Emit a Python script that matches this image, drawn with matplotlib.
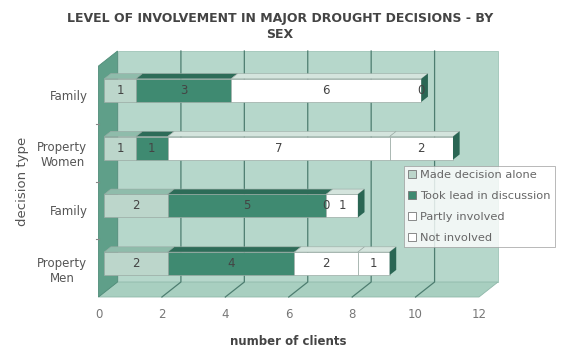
import numpy as np
import matplotlib
matplotlib.use("Agg")
import matplotlib.pyplot as plt
from matplotlib.patches import Polygon, Patch
from matplotlib.transforms import IdentityTransform

plt.rcParams['font.family'] = ['DejaVu Sans']

categories   = ["Property\nMen", "Family", "Property\nWomen", "Family"]
made_alone   = [2, 2, 1, 1]
took_lead    = [4, 5, 1, 3]
partly       = [2, 0, 7, 6]
not_involved = [1, 1, 2, 0]
series_names = ["Made decision alone", "Took lead in discussion", "Partly involved", "Not involved"]
x_ticks = [0, 2, 4, 6, 8, 10, 12]

# front / top / side colours for each series
face_cols = ["#bcd6cb", "#3f8a71", "#ffffff", "#ffffff"]
top_cols  = ["#8fbcab", "#2d6c58", "#d4e4dd", "#d4e4dd"]
side_cols = ["#7fae9d", "#2a6654", "#bcd2c9", "#bcd2c9"]

wall_col  = "#b6d7cb"
floor_col = "#a8cfc0"
lwall_col = "#5f9f89"
grid_col  = "#4d7d70"
text_col  = "#555555"

DPI = 100
fig = plt.figure(figsize=(5.62, 3.51), dpi=DPI)
ax = fig.add_axes([98.5 / 562, 54 / 351, 380.5 / 562, 231 / 351])
ax.set_xlim(0, 12)
ax.set_ylim(-0.5, 3.5)
for s in ax.spines.values():
    s.set_visible(False)
ax.patch.set_visible(False)

DX, DY = 19.0, 15.0   # depth of the box, in pixels


def pt(x, y, f=0.0):
    px, py = ax.transData.transform((x, y))
    return (px + f * DX, py + f * DY)


def face(pts, color, ec="none", lw=0.6, z=1):
    ax.add_patch(Polygon(pts, closed=True, facecolor=color, edgecolor=ec,
                         linewidth=lw, transform=IdentityTransform(), zorder=z,
                         clip_on=False))


# back wall, floor and left wall
face([pt(0, -0.5, 1), pt(12, -0.5, 1), pt(12, 3.5, 1), pt(0, 3.5, 1)], wall_col,
     ec="#9fc4b7", z=0)
face([pt(0, -0.5, 0), pt(12, -0.5, 0), pt(12, -0.5, 1), pt(0, -0.5, 1)], floor_col,
     ec="#8fb8aa", z=0)
face([pt(0, -0.5, 0), pt(0, -0.5, 1), pt(0, 3.5, 1), pt(0, 3.5, 0)], lwall_col,
     ec="#4f8c78", z=0)

for xv in x_ticks[1:-1]:
    a, b, c = pt(xv, -0.5, 0), pt(xv, -0.5, 1), pt(xv, 3.5, 1)
    ax.plot([a[0], b[0], c[0]], [a[1], b[1], c[1]], color=grid_col, lw=0.9,
            transform=IdentityTransform(), zorder=0.5, clip_on=False)

# category dividers on the left wall
for yv in [0.5, 1.5, 2.5]:
    a = pt(0, yv, 0)
    ax.plot([a[0] - 3, a[0]], [a[1], a[1]], color="#888888", lw=0.8,
            transform=IdentityTransform(), clip_on=False)

# stacked 3D bars
half = 0.2
f0, f1 = 0.3, 0.65
data = np.array([made_alone, took_lead, partly, not_involved])
for i in range(len(categories)):
    left = 0
    for j in range(data.shape[0]):
        v = data[j, i]
        r = left + v
        y0, y1 = i - half, i + half
        if v > 0:
            face([pt(left, y0, f0), pt(r, y0, f0), pt(r, y1, f0), pt(left, y1, f0)],
                 face_cols[j], ec="#9aaaa4", lw=0.5, z=3)
            face([pt(left, y1, f0), pt(r, y1, f0), pt(r, y1, f1), pt(left, y1, f1)],
                 top_cols[j], ec="#9aaaa4", lw=0.4, z=3)
        tx, ty = pt((left + r) / 2, i, f0)
        ax.text(tx, ty, str(v), transform=IdentityTransform(), ha='center',
                va='center', fontsize=8.5, color="#444444", zorder=5)
        left = r
    # end cap of the bar
    face([pt(left, i - half, f0), pt(left, i - half, f1), pt(left, i + half, f1),
          pt(left, i + half, f0)], side_cols[1], ec="none", z=3)

ax.set_xticks(x_ticks)
ax.set_xticklabels([str(t) for t in x_ticks], fontsize=8.5, color="#777777")
ax.tick_params(axis='x', length=0, pad=8)
ax.set_yticks(range(len(categories)))
ax.set_yticklabels(categories, fontsize=8.5, color=text_col, multialignment='center')
ax.tick_params(axis='y', length=0, pad=8)
ax.set_xlabel("number of clients", fontsize=8.5, fontweight='bold', color="#444444",
              labelpad=10)
ax.set_ylabel("decision type", fontsize=9.5, color=text_col, labelpad=6)

fig.text(0.498, 0.965, "LEVEL OF INVOLVEMENT IN MAJOR DROUGHT DECISIONS - BY\nSEX",
         ha='center', va='top', fontsize=9.0, fontweight='bold', color="#444444",
         linespacing=1.3)

handles = [Patch(facecolor=face_cols[k], edgecolor="#777777", linewidth=0.6)
           for k in range(4)]
leg = fig.legend(handles, series_names, loc='upper left',
                 bbox_to_anchor=(398 / 562, 1 - 160 / 351), fontsize=8.2,
                 frameon=True, fancybox=False, handlelength=0.7, handleheight=0.7,
                 handletextpad=0.4, labelspacing=0.97, borderpad=0.35,
                 labelcolor="#666666")
leg.get_frame().set_edgecolor("#999999")
leg.get_frame().set_linewidth(0.6)
leg.set_zorder(10)

fig.savefig("out.png", dpi=DPI)
